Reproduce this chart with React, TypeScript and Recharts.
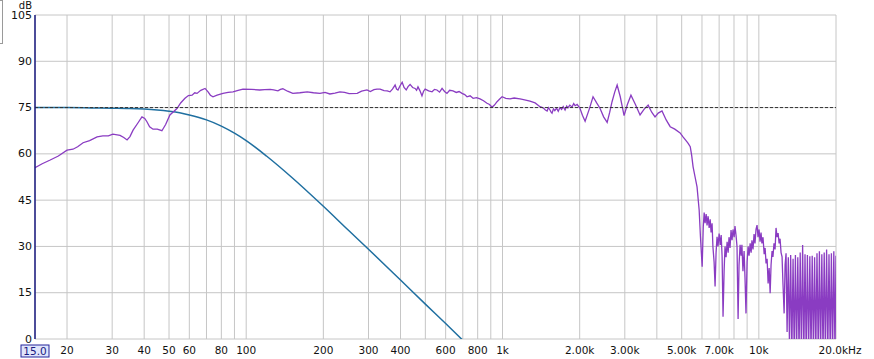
import React from "react";
import {
  CartesianGrid,
  Line,
  LineChart,
  ReferenceLine,
  XAxis,
  YAxis,
} from "recharts";

// axis ticks
const freqTicks = [
  15, 20, 30, 40, 50, 60, 70, 80, 90, 100, 200, 300, 400, 500, 600, 700, 800,
  900, 1000, 2000, 3000, 4000, 5000, 6000, 7000, 8000, 9000, 10000, 20000,
];

const freqLabels: Record<number, string> = {
  15: "15.0",
  20: "20",
  30: "30",
  40: "40",
  50: "50",
  60: "60",
  80: "80",
  100: "100",
  200: "200",
  300: "300",
  400: "400",
  600: "600",
  800: "800",
  1000: "1k",
  2000: "2.00k",
  3000: "3.00k",
  5000: "5.00k",
  7000: "7.00k",
  10000: "10k",
  20000: "20.0kHz",
};

const dbTicks = [0, 15, 30, 45, 60, 75, 90, 105];

const targetLevel = 75;

// low-pass target curve [Hz, dB]
const lowpass: [number, number][] = [
  [15, 75.0], [20, 75.0], [25, 74.9], [30, 74.8], [35, 74.7], [40, 74.5],
  [45, 74.2], [50, 73.8], [55, 73.3], [60, 72.6], [70, 71.0], [80, 69.0],
  [90, 66.7], [100, 64.3], [120, 59.3], [150, 52.5], [200, 43.0],
  [250, 35.3], [300, 29.1], [400, 19.1], [500, 11.3], [600, 5.0],
  [700, -0.4],
];

// measured response [Hz, dB]
const response: [number, number][] = [
  [15, 55.5], [16, 56.8], [17.2, 58.0], [18.5, 59.3], [20, 61.2], [21.1, 61.5],
  [22, 62.3], [23.1, 63.6], [24.5, 64.3], [26.2, 65.5], [27.6, 65.8], [29, 65.8],
  [30.2, 66.4], [32.2, 66.0], [33.3, 65.3], [34.3, 64.5], [35.2, 65.6], [36.2, 67.7],
  [37.8, 70.0], [39.2, 72.0], [40.2, 71.5], [41.0, 70.4], [42, 68.8], [43.3, 68.0],
  [45, 68.0], [46.9, 67.5], [48.5, 69.5], [50.4, 72.6], [53.7, 74.7], [55.5, 76.5],
  [57.7, 78.0], [59.5, 78.9], [61.5, 79.0], [63, 79.8], [64.3, 79.6], [66.5, 80.6],
  [69.1, 81.2], [71.0, 80.1], [72.5, 79.0], [74.2, 78.5], [77, 79.0], [81.2, 79.6],
  [85, 79.9], [88.8, 80.1], [93, 80.6], [97.2, 81.0], [105, 80.9], [113, 80.7],
  [118, 80.8], [124, 80.9], [128, 80.7], [133, 80.4], [136, 80.9], [139, 81.1],
  [145, 80.3], [152, 79.6], [162, 79.8], [173, 80.1], [183, 79.8], [194, 79.6],
  [203, 79.9], [212, 79.4], [222, 79.7], [232, 80.1], [242, 79.9], [252, 79.5],
  [271, 79.6], [282, 80.3], [296, 80.7], [305, 80.2], [315, 80.8], [324, 81.0],
  [333, 81.0], [345, 80.5], [355, 80.4], [364, 80.1], [372, 81.0], [381, 82.3],
  [386, 81.0], [391, 80.7], [398, 82.0], [406, 83.2], [413, 81.5], [421, 80.7],
  [428, 81.8], [436, 82.5], [446, 81.5], [456, 81.2], [462, 80.6], [468, 81.7],
  [476, 80.5], [485, 78.8], [492, 80.3], [499, 81.0], [515, 80.4], [531, 80.1],
  [543, 80.9], [555, 80.7], [568, 80.0], [581, 81.2], [594, 80.2], [607, 79.6],
  [622, 80.6], [641, 80.4], [660, 79.9], [677, 80.2], [695, 79.6], [712, 79.2],
  [727, 78.5], [747, 78.8], [768, 78.0], [792, 78.2], [817, 77.8], [843, 77.2],
  [870, 76.4], [890, 76.0], [910, 75.1], [930, 75.8], [952, 76.9], [975, 77.8],
  [996, 78.5], [1030, 78.0], [1070, 77.8], [1110, 78.1], [1170, 77.8], [1220, 77.5],
  [1280, 77.1], [1340, 76.5], [1400, 75.3], [1440, 74.9], [1470, 74.2], [1493, 73.9],
  [1510, 75.0], [1530, 74.3], [1545, 73.6], [1560, 73.2], [1580, 74.6], [1600, 74.0],
  [1625, 74.8], [1650, 73.8], [1675, 75.0], [1700, 74.4], [1725, 75.3], [1754, 74.2],
  [1780, 75.5], [1800, 74.9], [1830, 75.8], [1868, 75.2], [1895, 76.3], [1920, 75.6],
  [1955, 76.0], [2005, 74.8], [2050, 72.5], [2100, 70.6],
  [2180, 74.5], [2255, 78.5], [2330, 76.5], [2400, 74.8], [2480, 72.0], [2560, 70.2],
  [2620, 73.5], [2675, 76.9], [2740, 80.0], [2800, 82.3], [2880, 78.5], [2980, 72.4],
  [3070, 76.0], [3170, 79.0], [3300, 76.0], [3440, 72.6], [3570, 74.5], [3700, 75.8],
  [3820, 73.5], [3936, 72.0], [4050, 73.2], [4190, 73.9], [4350, 71.0], [4510, 68.8],
  [4700, 68.0], [4930, 66.8], [5060, 65.5], [5200, 64.3], [5300, 63.4], [5400, 62.3],
  [5470, 59.5], [5540, 55.8], [5640, 52.5], [5740, 49.3], [5850, 41.8], [5920, 33.0],
  [6010, 23.4], [6070, 36.4], [6120, 41.0], [6170, 37.5], [6230, 40.5], [6280, 36.8],
  [6340, 39.8], [6400, 36.0], [6460, 38.8], [6510, 34.5], [6570, 37.5], [6620, 29.9],
  [6690, 25.0], [6750, 17.0], [6810, 28.0], [6870, 33.1], [6930, 30.0], [7000, 34.2],
  [7070, 30.5], [7130, 33.7], [7190, 26.6], [7250, 7.2], [7320, 22.0], [7380, 30.0],
  [7450, 26.5], [7520, 31.5], [7590, 28.0], [7650, 33.0], [7720, 29.5], [7790, 35.3],
  [7860, 32.0], [7930, 35.5], [8010, 33.0], [8070, 36.6], [8150, 33.5], [8220, 30.0],
  [8300, 6.5], [8370, 24.0], [8450, 30.5], [8530, 27.0], [8590, 30.5], [8670, 22.0],
  [8760, 28.5], [8830, 20.0], [8910, 8.3], [9000, 25.0], [9080, 30.0], [9160, 27.0],
  [9250, 31.0], [9330, 28.0], [9400, 32.0], [9490, 29.0], [9580, 34.0], [9660, 31.0],
  [9750, 35.5], [9840, 36.9], [9930, 33.0], [10020, 35.5], [10110, 31.5], [10200, 34.5],
  [10280, 31.0], [10380, 33.0], [10490, 27.5], [10580, 29.5], [10670, 24.5],
  [10770, 26.0], [10870, 18.0], [10970, 23.0], [11070, 14.8], [11160, 24.0],
  [11260, 28.5], [11350, 26.6], [11460, 31.0], [11570, 29.0], [11670, 36.0],
  [11780, 33.0], [11890, 34.3], [12000, 31.0], [12100, 32.5], [12210, 28.0],
  [12320, 26.6], [12420, 18.0], [12550, 8.3], [12660, 24.0], [12770, 27.8],
  [12890, 2.3], [13030, 26.5], [13170, -2], [13310, 27.2], [13450, -5], [13600, 26.0],
  [13740, -5], [13890, 27.2], [14040, -5], [14190, 26.5], [14350, -5], [14500, 28.0],
  [14660, -5], [14820, 30.5], [14980, -5], [15140, 27.5], [15300, -5], [15470, 27.2],
  [15640, -5], [15810, 26.8], [15980, -5], [16150, 27.0], [16330, -5], [16500, 26.5],
  [16680, -5], [16860, 27.8], [17050, -5], [17230, 28.4], [17420, -5], [17610, 27.5],
  [17800, -5], [17990, 28.0], [18180, -5], [18380, 29.0], [18580, -5], [18780, 27.5],
  [18990, -5], [19190, 27.8], [19400, -5], [19610, 28.4], [19820, -5], [20000, 27.0],
];

const lowpassData = lowpass.map(([f, db]) => ({ f, db }));
const responseData = response.map(([f, db]) => ({ f, db }));

const FONT = "'DejaVu Sans', Verdana, sans-serif";

function FreqTick(props: any) {
  const { x, y, payload } = props;
  const label = freqLabels[payload.value];

  if (!label) return <g />;

  if (payload.value === 15) {
    return (
      <g>
        <rect
          x={x - 14}
          y={y + 6}
          width={28}
          height={12}
          fill="#dfe5fb"
          stroke="#24249c"
        />
        <text
          x={x}
          y={y + 15.5}
          textAnchor="middle"
          fontSize={10.5}
          fontFamily={FONT}
          fill="#1a1a80"
        >
          {label}
        </text>
      </g>
    );
  }

  return (
    <text
      x={payload.value === 20000 ? x + 4 : x}
      y={y + 15}
      textAnchor="middle"
      fontSize={10.5}
      fontFamily={FONT}
      fill="#111"
    >
      {label}
    </text>
  );
}

function DbTick(props: any) {
  const { x, y, payload } = props;

  return (
    <g>
      {payload.value === 105 && (
        <text
          x={x}
          y={y - 6}
          textAnchor="end"
          fontSize={10}
          fontFamily={FONT}
          fill="#111"
        >
          dB
        </text>
      )}
      <text
        x={x}
        y={y + 3.5}
        textAnchor="end"
        fontSize={11}
        fontFamily={FONT}
        fill="#111"
      >
        {payload.value}
      </text>
    </g>
  );
}

export default function App() {
  return (
    <div
      style={{
        position: "absolute",
        left: 0,
        top: 0,
        width: 874,
        height: 359,
        background: "#fff",
      }}
    >
      {/* little panel edge at top-left */}
      <div
        style={{
          position: "absolute",
          left: 0,
          top: 0,
          width: 2,
          height: 42,
          border: "1px solid #9a9a9a",
          borderLeft: "none",
        }}
      />

      <LineChart
        width={874}
        height={359}
        margin={{ top: 15, right: 38, bottom: 0, left: 0 }}
      >
        <CartesianGrid stroke="#c6c6c6" strokeWidth={1} />

        <XAxis
          type="number"
          dataKey="f"
          scale="log"
          domain={[15, 20000]}
          allowDataOverflow
          ticks={freqTicks}
          interval={0}
          tickLine={false}
          axisLine={false}
          tickSize={0}
          tickMargin={0}
          height={20}
          tick={<FreqTick />}
        />

        <YAxis
          type="number"
          domain={[0, 105]}
          allowDataOverflow
          ticks={dbTicks}
          interval={0}
          width={35}
          tickLine={false}
          tickSize={0}
          tickMargin={3}
          axisLine={{ stroke: "#1a1a80", strokeWidth: 1.5 }}
          tick={<DbTick />}
        />

        <Line
          data={lowpassData}
          dataKey="db"
          type="monotone"
          stroke="#1f6fa0"
          strokeWidth={1.5}
          dot={false}
          isAnimationActive={false}
        />

        <Line
          data={responseData}
          dataKey="db"
          type="linear"
          stroke="#8a3cc2"
          strokeWidth={1.3}
          dot={false}
          isAnimationActive={false}
        />

        <ReferenceLine
          y={targetLevel}
          stroke="#333"
          strokeDasharray="3 2"
          strokeWidth={1}
        />
      </LineChart>
    </div>
  );
}
